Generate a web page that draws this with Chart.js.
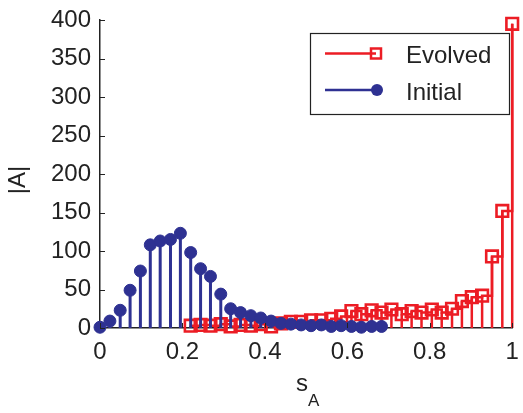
<!DOCTYPE html>
<html><head><meta charset="utf-8">
<script src="https://cdn.jsdelivr.net/npm/chart.js@4.4.1/dist/chart.umd.min.js"></script>
<style>html,body{margin:0;padding:0;background:#fff;overflow:hidden}#wrap{position:relative;width:523px;height:413px}</style>
</head><body>
<div id="wrap"><canvas id="c" width="523" height="413"></canvas></div>
<script>
const xTickValues = [0, 0.2, 0.4, 0.6, 0.8, 1];
const yTickValues = [0, 50, 100, 150, 200, 250, 300, 350, 400];
const seriesNames = ['Evolved', 'Initial'];
const axisTitleX = ['s', 'A'];
const axisTitleY = '|A|';

const initialS = [0.000, 0.024, 0.049, 0.073, 0.098, 0.122, 0.146, 0.171, 0.195, 0.220,
                  0.244, 0.268, 0.293, 0.317, 0.341, 0.366, 0.390, 0.415, 0.439, 0.463,
                  0.488, 0.512, 0.537, 0.561, 0.585, 0.610, 0.634, 0.659, 0.683];
const initialA = [1, 9, 23, 49, 74, 108, 113, 115, 123, 98,
                  77, 67, 44, 25, 20, 16, 13, 9, 6, 5,
                  4, 3, 4, 2, 3, 2, 1, 2, 2];

const evolvedS = [0.220, 0.244, 0.268, 0.293, 0.317, 0.341, 0.366, 0.390, 0.415, 0.439,
                  0.463, 0.488, 0.512, 0.537, 0.561, 0.585, 0.610, 0.634, 0.659, 0.683,
                  0.707, 0.732, 0.756, 0.780, 0.805, 0.829, 0.854, 0.878, 0.902, 0.927,
                  0.951, 0.976, 1.000];
const evolvedA = [3, 4, 3, 5, 2, 4, 3, 5, 2, 6,
                  8, 8, 10, 10, 12, 15, 22, 18, 23, 20,
                  24, 18, 22, 20, 24, 20, 25, 35, 40, 42,
                  93, 152, 395];

const RED = '#EC1C24';
const BLUE = '#2E3192';
const FONT = "'Liberation Sans', Arial, Helvetica, sans-serif";
const FS = 24;

function stems(xs, ys) {
  const out = [];
  xs.forEach((x, i) => { out.push({x: x, y: 0}, {x: x, y: ys[i]}, {x: x, y: null}); });
  return out;
}
function pts(xs, ys) { return xs.map((x, i) => ({x: x, y: ys[i]})); }

const decor = {
  id: 'decor',
  afterDraw(chart) {
    const {ctx, scales: {x, y}, chartArea: a} = chart;
    ctx.save();
    ctx.strokeStyle = '#222';
    ctx.lineWidth = 1;
    yTickValues.forEach(v => {
      const py = Math.round(y.getPixelForValue(v)) + 0.5;
      ctx.beginPath(); ctx.moveTo(a.left, py); ctx.lineTo(a.left + 5, py); ctx.stroke();
    });
    xTickValues.forEach(v => {
      const px = Math.round(x.getPixelForValue(v)) + 0.5;
      ctx.beginPath(); ctx.moveTo(px, a.bottom); ctx.lineTo(px, a.bottom - 5); ctx.stroke();
    });

    // axis titles
    ctx.fillStyle = '#222';
    ctx.textBaseline = 'alphabetic';
    ctx.textAlign = 'left';
    ctx.font = FS + 'px ' + FONT;
    ctx.fillText(axisTitleX[0], 296, 391);
    ctx.font = Math.round(FS * 0.72) + 'px ' + FONT;
    ctx.fillText(axisTitleX[1], 308, 406);

    ctx.save();
    ctx.translate(18, 180);
    ctx.rotate(-Math.PI / 2);
    ctx.font = FS + 'px ' + FONT;
    ctx.textAlign = 'center';
    ctx.textBaseline = 'middle';
    ctx.fillText(axisTitleY, 0, 0);
    ctx.restore();

    // legend
    const lx = 310.5, ly = 33.5, lw = 199, lh = 81;
    ctx.fillStyle = '#fff';
    ctx.fillRect(lx, ly, lw, lh);
    ctx.strokeStyle = '#222';
    ctx.lineWidth = 1.2;
    ctx.strokeRect(lx, ly, lw, lh);

    ctx.strokeStyle = RED; ctx.lineWidth = 2.5;
    ctx.beginPath(); ctx.moveTo(325, 53.5); ctx.lineTo(376, 53.5); ctx.stroke();
    ctx.strokeRect(371, 48.5, 10, 10);

    ctx.strokeStyle = BLUE; ctx.lineWidth = 2.5;
    ctx.beginPath(); ctx.moveTo(325, 90); ctx.lineTo(377, 90); ctx.stroke();
    ctx.fillStyle = BLUE;
    ctx.beginPath(); ctx.arc(377, 90, 6, 0, Math.PI * 2); ctx.fill();

    ctx.fillStyle = '#222';
    ctx.font = FS + 'px ' + FONT;
    ctx.textAlign = 'left';
    ctx.textBaseline = 'middle';
    ctx.fillText(seriesNames[0], 406, 56);
    ctx.fillText(seriesNames[1], 406, 93);
    ctx.restore();
  }
};

new Chart(document.getElementById('c'), {
  type: 'line',
  data: {
    datasets: [
      {label: seriesNames[0] + ' stems', data: stems(evolvedS, evolvedA), borderColor: RED, borderWidth: 2.5,
       pointRadius: 0, spanGaps: false, order: 4, clip: false},
      {label: seriesNames[0], data: pts(evolvedS, evolvedA), stepped: true, borderColor: RED, borderWidth: 2.5,
       pointStyle: 'rect', pointRadius: 8.2, pointBorderWidth: 2.6, pointBackgroundColor: 'rgba(0,0,0,0)',
       pointBorderColor: RED, order: 3, clip: false},
      {label: seriesNames[1] + ' stems', data: stems(initialS, initialA), borderColor: BLUE, borderWidth: 3,
       pointRadius: 0, spanGaps: false, order: 2, clip: false},
      {label: seriesNames[1], data: pts(initialS, initialA), showLine: false, pointStyle: 'circle',
       pointRadius: 6, pointBackgroundColor: BLUE, pointBorderColor: BLUE, pointBorderWidth: 1, order: 1, clip: false}
    ]
  },
  options: {
    responsive: false,
    animation: false,
    devicePixelRatio: 1,
    layout: {padding: {left: 0, right: 6, top: 20, bottom: 0}},
    plugins: {legend: {display: false}, tooltip: {enabled: false}},
    elements: {line: {tension: 0, fill: false}},
    scales: {
      x: {
        type: 'linear', min: 0, max: 1, offset: false,
        grid: {display: false, drawTicks: false},
        border: {display: true, color: '#222', width: 1.5},
        afterBuildTicks: s => { s.ticks = xTickValues.map(v => ({value: v})); },
        ticks: {color: '#222', font: {family: FONT, size: FS}, padding: 10, maxRotation: 0,
                callback: v => String(v)},
        afterFit: s => { s.height = 85; s.paddingLeft = 0; s.paddingRight = 0; }
      },
      y: {
        type: 'linear', min: 0, max: 400,
        grid: {display: false, drawTicks: false},
        border: {display: true, color: '#222', width: 1.5},
        afterBuildTicks: s => { s.ticks = yTickValues.map(v => ({value: v})); },
        ticks: {color: '#222', font: {family: FONT, size: FS}, padding: 9,
                callback: v => String(v)},
        afterFit: s => { s.width = 100; s.paddingTop = 0; s.paddingBottom = 0; }
      }
    }
  },
  plugins: [decor]
});
</script>
</body></html>
